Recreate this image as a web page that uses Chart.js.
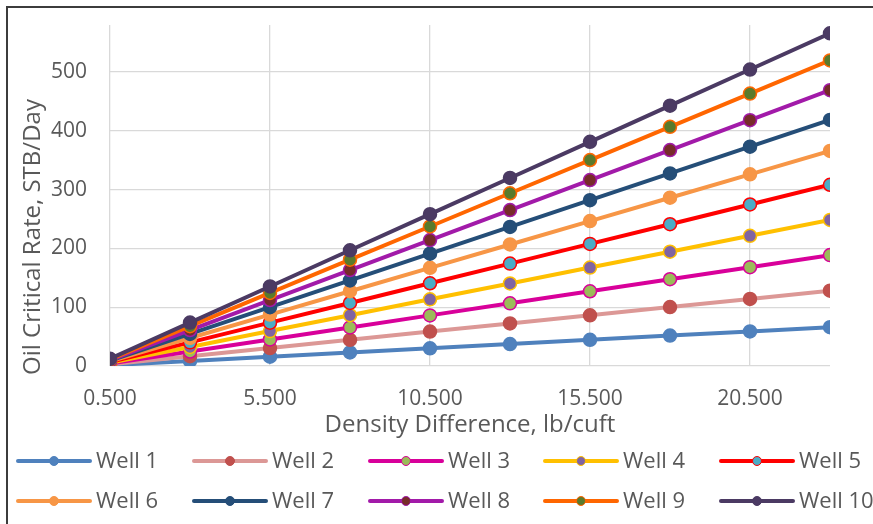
<!DOCTYPE html>
<html>
<head>
<meta charset="utf-8">
<script src="https://cdn.jsdelivr.net/npm/chart.js@4/dist/chart.umd.min.js"></script>
<style>
  html, body { margin: 0; padding: 0; background: #ffffff; }
  #wrap { width: 873px; height: 524px; }
</style>
</head>
<body>
<div id="wrap"><canvas id="c" width="873" height="524"></canvas></div>
<script>
// Density difference (lb/cuft) at which each critical rate was computed
const densityDiff = [0.5, 3, 5.5, 8, 10.5, 13, 15.5, 18, 20.5, 23];

// Oil critical rate, STB/Day, per well
const well1  = [1.4, 8.6, 15.8, 23.0, 30.1, 37.3, 44.5, 51.7, 58.8, 66.0];
const well2  = [2.8, 16.7, 30.6, 44.5, 58.5, 72.4, 86.3, 100.2, 114.1, 128.0];
const well3  = [4.1, 24.6, 45.1, 65.6, 86.1, 106.6, 127.1, 147.6, 168.1, 188.6];
const well4  = [5.4, 32.4, 59.4, 86.4, 113.4, 140.4, 167.4, 194.4, 221.4, 248.4];
const well5  = [6.7, 40.2, 73.7, 107.2, 140.7, 174.2, 207.7, 241.2, 274.7, 308.2];
const well6  = [8.0, 47.7, 87.5, 127.2, 167.0, 206.7, 246.5, 286.2, 326.0, 365.7];
const well7  = [9.1, 54.6, 100.1, 145.6, 191.1, 236.6, 282.1, 327.6, 373.1, 418.6];
const well8  = [10.2, 61.2, 112.2, 163.2, 214.2, 265.2, 316.2, 367.2, 418.2, 469.2];
const well9  = [11.3, 67.8, 124.3, 180.8, 237.3, 293.8, 350.3, 406.8, 463.3, 519.8];
const well10 = [12.3, 73.8, 135.3, 196.8, 258.3, 319.8, 381.3, 442.8, 504.3, 565.8];

const seriesNames = ['Well 1', 'Well 2', 'Well 3', 'Well 4', 'Well 5',
                     'Well 6', 'Well 7', 'Well 8', 'Well 9', 'Well 10'];
const seriesValues = [well1, well2, well3, well4, well5, well6, well7, well8, well9, well10];

// Axis ticks
const xTickValues = [0.5, 5.5, 10.5, 15.5, 20.5];
const xTickLabels = ['0.500', '5.500', '10.500', '15.500', '20.500'];
const yTickValues = [0, 100, 200, 300, 400, 500];

const xTitle = 'Density Difference, lb/cuft';
const yTitle = 'Oil Critical Rate, STB/Day';

// Line colour, marker fill, marker outline for each well
const lineColors   = ['#4f81bd', '#dc9896', '#d8009a', '#ffc000', '#ff0000',
                      '#f79646', '#254e78', '#a21aa9', '#ff6600', '#4b3a63'];
const markerFills  = ['#4f81bd', '#c0504d', '#9bbb59', '#8064a2', '#4bacc6',
                      '#f79646', '#254e78', '#772c2a', '#5a7a2c', '#4b3a63'];
const markerEdges  = ['#4f81bd', '#c0504d', '#d8009a', '#ffc000', '#ff0000',
                      '#f79646', '#254e78', '#a21aa9', '#ff6600', '#4b3a63'];

const FONT = "'Open Sans', 'Noto Sans', sans-serif";
const TEXT = '#595959';
const GRID = '#d9d9d9';

const datasets = seriesNames.map((name, i) => ({
  label: name,
  data: densityDiff.map((x, k) => ({ x: x, y: seriesValues[i][k] })),
  borderColor: lineColors[i],
  backgroundColor: markerFills[i],
  pointBackgroundColor: markerFills[i],
  pointBorderColor: markerEdges[i],
  borderWidth: 4,
  pointRadius: 6.5,
  pointBorderWidth: 1.5,
  pointHoverRadius: 6.5,
  tension: 0,
  order: seriesNames.length - i
}));

// Frame line on the left and top edges
const framePlugin = {
  id: 'frame',
  beforeDraw(chart) {
    const ctx = chart.ctx;
    ctx.save();
    ctx.fillStyle = '#ffffff';
    ctx.fillRect(0, 0, chart.width, chart.height);
    ctx.strokeStyle = '#3c3c3c';
    ctx.lineWidth = 2;
    ctx.beginPath();
    ctx.moveTo(7, chart.height);
    ctx.lineTo(7, 7);
    ctx.lineTo(chart.width, 7);
    ctx.stroke();
    ctx.restore();
  }
};

// Vertical axis title
const yTitlePlugin = {
  id: 'yTitle',
  afterDraw(chart) {
    const ctx = chart.ctx;
    ctx.save();
    ctx.translate(33, 237);
    ctx.rotate(-Math.PI / 2);
    ctx.font = '24px ' + FONT;
    ctx.fillStyle = TEXT;
    ctx.textAlign = 'center';
    ctx.textBaseline = 'middle';
    ctx.fillText(yTitle, 0, 0);
    ctx.restore();
  }
};

// Two-row legend: line sample with a centred marker, then the series name
const legendPlugin = {
  id: 'gridLegend',
  afterDraw(chart) {
    const ctx = chart.ctx;
    const colX = [18, 194, 370, 545, 721];
    const rowY = [461, 501];
    ctx.save();
    chart.data.datasets.forEach((ds, i) => {
      const x0 = colX[i % 5];
      const y = rowY[Math.floor(i / 5)];
      ctx.strokeStyle = ds.borderColor;
      ctx.lineWidth = 4;
      ctx.lineCap = 'round';
      ctx.beginPath();
      ctx.moveTo(x0, y);
      ctx.lineTo(x0 + 72, y);
      ctx.stroke();
      ctx.beginPath();
      ctx.arc(x0 + 36, y, 4.5, 0, Math.PI * 2);
      ctx.fillStyle = ds.pointBackgroundColor;
      ctx.fill();
      ctx.lineWidth = 1;
      ctx.strokeStyle = ds.pointBorderColor;
      ctx.stroke();
      ctx.font = '22px ' + FONT;
      ctx.fillStyle = TEXT;
      ctx.textAlign = 'left';
      ctx.textBaseline = 'middle';
      ctx.fillText(ds.label, x0 + 78, y + 1);
    });
    ctx.restore();
  }
};

new Chart(document.getElementById('c'), {
  type: 'line',
  data: { datasets: datasets },
  options: {
    responsive: false,
    animation: false,
    devicePixelRatio: 1,
    layout: { padding: { left: 0, right: 43, top: 25, bottom: 84 } },
    plugins: {
      legend: { display: false },
      tooltip: { enabled: false },
      title: { display: false }
    },
    scales: {
      x: {
        type: 'linear',
        min: 0.5,
        max: 23,
        afterBuildTicks(scale) {
          scale.ticks = xTickValues.map(v => ({ value: v }));
        },
        afterFit(scale) {
          scale.height = 74;
          scale.paddingLeft = 0;
          scale.paddingRight = 0;
        },
        grid: { color: GRID, lineWidth: 1.3, drawTicks: false },
        border: { display: false },
        ticks: {
          padding: 20,
          color: TEXT,
          font: { family: FONT, size: 21 },
          maxRotation: 0,
          autoSkip: false,
          callback(value) {
            const idx = xTickValues.indexOf(value);
            return idx >= 0 ? xTickLabels[idx] : '';
          }
        },
        title: {
          display: true,
          text: xTitle,
          color: TEXT,
          font: { family: FONT, size: 24 },
          padding: { top: 0, bottom: 0 }
        }
      },
      y: {
        type: 'linear',
        min: 0,
        max: 580,
        afterBuildTicks(scale) {
          scale.ticks = yTickValues.map(v => ({ value: v }));
        },
        afterFit(scale) {
          scale.width = 110;
          scale.paddingTop = 0;
          scale.paddingBottom = 0;
        },
        grid: { color: GRID, lineWidth: 1.3, drawTicks: false },
        border: { display: false },
        ticks: {
          padding: 23,
          color: TEXT,
          font: { family: FONT, size: 21 },
          autoSkip: false
        },
        title: { display: false }
      }
    }
  },
  plugins: [framePlugin, yTitlePlugin, legendPlugin]
});
</script>
</body>
</html>
